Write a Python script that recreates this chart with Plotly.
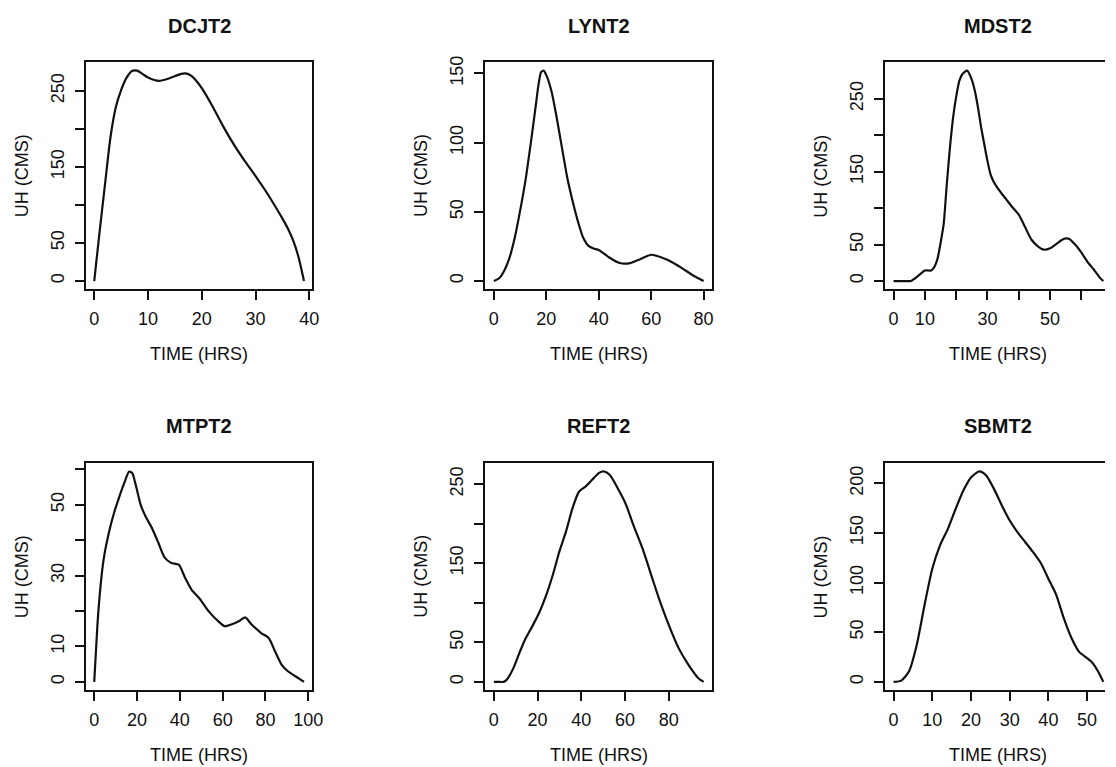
import plotly.graph_objects as go

# ---- Unit hydrograph ordinates (time in hours, discharge in m3/s) ----
dcjt2_t = [0, 1, 2, 3, 4, 5, 6, 7, 8, 9, 10, 12, 14, 16, 17, 18, 19, 20, 22, 24,
           26, 28, 30, 32, 34, 35, 36, 37, 38, 39]
dcjt2_q = [0, 65, 127, 188, 228, 251, 267, 276, 276.5, 272, 267.5, 263, 266.5, 272,
           273, 270, 263, 253.5, 229.5, 203, 179, 157.7, 138, 117, 94, 82, 69, 53,
           31, 0]

lynt2_t = [0, 2, 4, 6, 8, 10, 12, 14, 16, 17, 18, 19, 20, 22, 24, 26, 28, 30, 32,
           34, 36, 38, 40, 44, 48, 52, 56, 60, 64, 68, 72, 76, 80]
lynt2_q = [0, 2, 7.7, 17, 31.6, 50.7, 72, 98.6, 127, 141.6, 151, 152, 148.8, 137,
           117.7, 96, 74.6, 58, 43.5, 31.6, 25.6, 23.5, 22.5, 17, 13, 13, 16, 19, 17,
           13.6, 9, 4, 0]

mdst2_t = [0, 2, 4, 5.5, 8, 10, 12, 13, 14, 15, 16, 17, 18, 19, 20, 21, 22, 23.5,
           25, 26, 27, 28, 29, 30, 31, 32, 34, 36, 38, 40, 42, 44, 46, 48, 50, 52,
           54, 55, 56, 58, 60, 62, 64, 66, 67]
mdst2_q = [0, 0, 0, 0, 7.7, 14.5, 14.5, 19, 30, 52, 78, 133, 183, 224, 253, 274.5,
           284, 288.6, 276, 260, 237, 210, 187, 164.5, 146, 136, 123, 112, 101, 91,
           74, 57, 48, 43, 45, 51, 57, 58.5, 58, 50, 39, 26, 15.5, 4, 0]

mtpt2_t = [0, 1.5, 3, 4.5, 7, 9, 11.5, 14, 16.3, 17.8, 19.4, 21.7, 24, 27, 30, 33,
           36, 39.5, 42.5, 45.5, 49, 53.5, 58, 61, 64, 67.5, 70.5, 73.5, 78, 81.5,
           84.5, 87.5, 90.5, 94, 98]
mtpt2_q = [0, 16.2, 27.4, 35, 42.5, 47.2, 51.9, 56.1, 59.4, 58.9, 55.6, 50, 46.7,
           43.4, 39.2, 35, 33.6, 33.1, 29.3, 26, 23.7, 19.9, 17.1, 15.7, 16.2, 17.1,
           18.2, 16.2, 13.8, 12.4, 8.6, 4.9, 3, 1.6, 0]

reft2_t = [0, 2, 4.5, 6, 9, 12, 14.3, 18, 21, 24, 27, 30, 33, 36, 39, 42, 45, 48,
           50.5, 53, 57.5, 60.5, 63.5, 68, 72.5, 75.5, 80, 84.5, 89, 93.5, 96]
reft2_q = [0, 0, 0, 3, 17.7, 38.7, 53.5, 72.4, 89, 110, 135.5, 165, 190, 219.7,
           240.7, 247, 255.5, 264, 266, 261.8, 240.7, 224, 200.8, 169, 131, 106,
           72.4, 43, 21.9, 5, 0]

sbmt2_t = [0, 2, 4, 6, 8, 10, 12, 14, 16, 18, 20, 22, 23, 24, 26, 28, 30, 32, 34,
           36, 38, 40, 42, 44, 46, 48, 50, 51, 52, 53, 54.2]
sbmt2_q = [0, 1.3, 10.7, 37.4, 77.5, 114, 137.6, 154, 174, 192.6, 206, 212, 211,
           207.7, 194, 177.6, 162.6, 151, 141, 131, 120, 104, 88, 64, 44, 30, 24,
           20.7, 16, 9.5, 0]

# ---- Tick marks and their labels (empty label = unlabeled tick) ----
dcjt2_xticks = [0, 10, 20, 30, 40]
dcjt2_xlabels = ["0", "10", "20", "30", "40"]
dcjt2_yticks = [0, 50, 100, 150, 200, 250]
dcjt2_ylabels = ["0", "50", "", "150", "", "250"]

lynt2_xticks = [0, 20, 40, 60, 80]
lynt2_xlabels = ["0", "20", "40", "60", "80"]
lynt2_yticks = [0, 50, 100, 150]
lynt2_ylabels = ["0", "50", "100", "150"]

mdst2_xticks = [0, 10, 20, 30, 40, 50, 60]
mdst2_xlabels = ["0", "10", "", "30", "", "50", ""]
mdst2_yticks = [0, 50, 100, 150, 200, 250]
mdst2_ylabels = ["0", "50", "", "150", "", "250"]

mtpt2_xticks = [0, 20, 40, 60, 80, 100]
mtpt2_xlabels = ["0", "20", "40", "60", "80", "100"]
mtpt2_yticks = [0, 10, 20, 30, 40, 50, 60]
mtpt2_ylabels = ["0", "10", "", "30", "", "50", ""]

reft2_xticks = [0, 20, 40, 60, 80]
reft2_xlabels = ["0", "20", "40", "60", "80"]
reft2_yticks = [0, 50, 100, 150, 200, 250]
reft2_ylabels = ["0", "50", "", "150", "", "250"]

sbmt2_xticks = [0, 10, 20, 30, 40, 50]
sbmt2_xlabels = ["0", "10", "20", "30", "40", "50"]
sbmt2_yticks = [0, 50, 100, 150, 200]
sbmt2_ylabels = ["0", "50", "100", "150", "200"]

station_names = ["DCJT2", "LYNT2", "MDST2", "MTPT2", "REFT2", "SBMT2"]
x_title = "TIME (HRS)"
y_title = "UH (CMS)"

panels = [
    (dcjt2_t, dcjt2_q, dcjt2_xticks, dcjt2_xlabels, dcjt2_yticks, dcjt2_ylabels),
    (lynt2_t, lynt2_q, lynt2_xticks, lynt2_xlabels, lynt2_yticks, lynt2_ylabels),
    (mdst2_t, mdst2_q, mdst2_xticks, mdst2_xlabels, mdst2_yticks, mdst2_ylabels),
    (mtpt2_t, mtpt2_q, mtpt2_xticks, mtpt2_xlabels, mtpt2_yticks, mtpt2_ylabels),
    (reft2_t, reft2_q, reft2_xticks, reft2_xlabels, reft2_yticks, reft2_ylabels),
    (sbmt2_t, sbmt2_q, sbmt2_xticks, sbmt2_xlabels, sbmt2_yticks, sbmt2_ylabels),
]

# ---- Page geometry (pixels) ----
W, H = 1116, 767
COL_LEFT = [86.7, 490.3, 894.0]
ROW_TOP = [56.7, 460.7]
BOX_W, BOX_H = 228.8, 229.0
FONT = "Liberation Sans, Arial, Helvetica, sans-serif"
INK = "#111111"


def px_x(p):
    return p / W


def px_y(p):
    return 1 - p / H


def padded(lo, hi):
    span = hi - lo
    return lo - 0.04 * span, hi + 0.04 * span


fig = go.Figure()
annotations = []
layout = {}

for i, (name, (t, q, xt, xl, yt, yl)) in enumerate(zip(station_names, panels)):
    row, col = divmod(i, 3)
    left = COL_LEFT[col]
    right = left + BOX_W
    top = ROW_TOP[row]
    bottom = top + BOX_H

    x0, x1 = padded(min(t), max(t))
    y0, y1 = padded(0, max(q))

    # right-hand column runs off the page edge: keep the same scale, clip at edge
    vis_right = min(right, W)
    x1_vis = x0 + (x1 - x0) * (vis_right - left) / BOX_W
    clipped = vis_right < right

    sfx = "" if i == 0 else str(i + 1)
    fig.add_trace(go.Scatter(
        x=t, y=q, mode="lines",
        line=dict(color=INK, width=2.2, shape="spline", smoothing=0.6),
        xaxis="x" + sfx, yaxis="y" + sfx, showlegend=False, hoverinfo="x+y",
    ))

    common = dict(
        showgrid=False, zeroline=False, showline=True, linecolor=INK, linewidth=2,
        ticks="outside", ticklen=9, tickwidth=2, tickcolor=INK,
        tickfont=dict(family=FONT, size=18, color=INK),
    )
    layout["xaxis" + sfx] = dict(
        common, domain=[px_x(left), px_x(vis_right)], range=[x0, x1_vis],
        anchor="y" + sfx, mirror=True, tickmode="array", tickvals=xt,
        ticktext=xl, ticklabelstandoff=3,
    )
    layout["yaxis" + sfx] = dict(
        common, domain=[px_y(bottom), px_y(top)], range=[y0, y1],
        anchor="x" + sfx, mirror=not clipped, tickmode="array", tickvals=yt,
        ticktext=yl, tickangle=-90, ticklabelstandoff=4,
    )

    cx = (left + right) / 2
    cy = (top + bottom) / 2
    annotations.append(dict(
        text="<b>%s</b>" % name, x=px_x(cx), y=px_y(top - 37), xref="paper",
        yref="paper", showarrow=False, xanchor="center", yanchor="middle",
        font=dict(family=FONT, size=20, color=INK),
    ))
    annotations.append(dict(
        text=x_title, x=px_x(cx), y=px_y(bottom + 65), xref="paper",
        yref="paper", showarrow=False, xanchor="center", yanchor="middle",
        font=dict(family=FONT, size=18, color=INK),
    ))
    annotations.append(dict(
        text=y_title, x=px_x(left - 65), y=px_y(cy), xref="paper",
        yref="paper", showarrow=False, xanchor="center", yanchor="middle",
        textangle=-90, font=dict(family=FONT, size=18, color=INK),
    ))

fig.update_layout(
    width=W, height=H, margin=dict(l=0, r=0, t=0, b=0),
    paper_bgcolor="white", plot_bgcolor="white",
    annotations=annotations, **layout,
)

fig.write_html("out.html")
